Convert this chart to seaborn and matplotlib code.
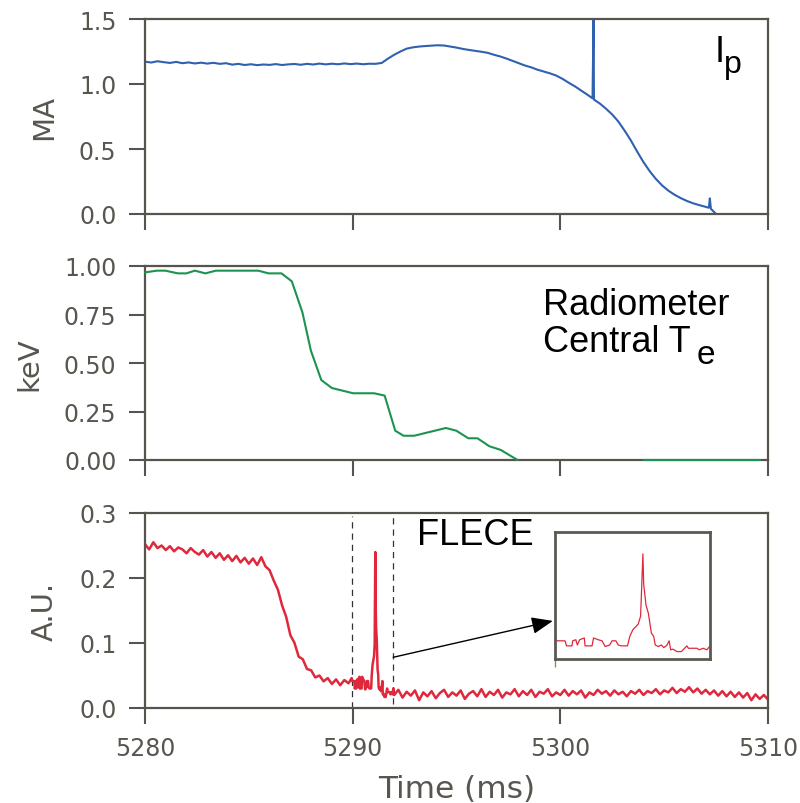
import numpy as np
import pandas as pd
import matplotlib
matplotlib.use("Agg")
import matplotlib.pyplot as plt
import seaborn as sns
from matplotlib.patches import ArrowStyle

# ---------------- data ----------------
ip_time = [5280.0, 5280.3, 5280.6, 5280.9, 5281.2, 5281.5, 5281.8, 5282.1, 5282.4, 5282.7,
           5283.0, 5283.3, 5283.6, 5283.9, 5284.2, 5284.5, 5284.8, 5285.1, 5285.4, 5285.7,
           5286.0, 5286.3, 5286.6, 5286.9, 5287.2, 5287.5, 5287.8, 5288.1, 5288.4, 5288.7,
           5289.0, 5289.3, 5289.6, 5289.9, 5290.2, 5290.5, 5290.8, 5291.1, 5291.4, 5291.7,
           5292.0, 5292.3, 5292.6, 5292.9, 5293.2, 5293.5, 5293.8, 5294.1, 5294.4, 5294.7,
           5295.0, 5295.3, 5295.6, 5295.9, 5296.2, 5296.5, 5296.8, 5297.1, 5297.4, 5297.7,
           5298.0, 5298.3, 5298.6, 5298.9, 5299.2, 5299.5, 5299.8, 5300.1, 5300.4, 5300.7,
           5301.0, 5301.3, 5301.55, 5301.6, 5301.62, 5301.9, 5302.2, 5302.5, 5302.8, 5303.1,
           5303.4, 5303.7, 5304.0, 5304.3, 5304.6, 5304.9, 5305.2, 5305.5, 5305.8, 5306.1,
           5306.4, 5306.7, 5307.0, 5307.15, 5307.2, 5307.25, 5307.5]
ip_ma = [1.172, 1.165, 1.175, 1.168, 1.162, 1.170, 1.160, 1.166, 1.158, 1.164,
         1.157, 1.163, 1.155, 1.160, 1.149, 1.155, 1.146, 1.152, 1.145, 1.150,
         1.147, 1.153, 1.146, 1.151, 1.154, 1.148, 1.155, 1.150, 1.157, 1.151,
         1.156, 1.152, 1.158, 1.153, 1.157, 1.152, 1.156, 1.155, 1.162, 1.195,
         1.225, 1.250, 1.272, 1.282, 1.288, 1.292, 1.295, 1.298, 1.296, 1.288,
         1.280, 1.270, 1.262, 1.255, 1.248, 1.240, 1.225, 1.212, 1.196, 1.178,
         1.160, 1.142, 1.128, 1.110, 1.096, 1.082, 1.065, 1.040, 1.010, 0.982,
         0.950, 0.918, 0.890, 1.500, 0.880, 0.850, 0.810, 0.765, 0.710, 0.640,
         0.565, 0.480, 0.400, 0.330, 0.270, 0.220, 0.180, 0.148, 0.122, 0.100,
         0.082, 0.068, 0.055, 0.048, 0.120, 0.040, 0.000]

te_time = [5280.0, 5280.57, 5280.98, 5281.59, 5281.99, 5282.40, 5282.91, 5283.41, 5285.45,
           5285.95, 5286.57, 5287.07, 5287.58, 5287.99, 5288.49, 5289.00, 5290.02, 5291.03,
           5291.54, 5292.05, 5292.45, 5292.96, 5294.49, 5294.99, 5295.57, 5296.01, 5296.58,
           5297.13, 5297.94, 5304.03, 5309.62]
te_kev = [0.967, 0.976, 0.976, 0.962, 0.962, 0.976, 0.962, 0.976, 0.976,
          0.962, 0.962, 0.921, 0.761, 0.563, 0.412, 0.371, 0.344, 0.344,
          0.332, 0.151, 0.125, 0.125, 0.165, 0.151, 0.112, 0.112, 0.071,
          0.052, 0.000, 0.000, 0.000]
te_segment = [0] * 29 + [1, 1]

flece_pre_time = np.round(np.arange(5280.0, 5289.81, 0.2), 2)
flece_pre = [0.252, 0.244, 0.255, 0.246, 0.250, 0.243, 0.249, 0.241, 0.247, 0.244,
             0.238, 0.246, 0.240, 0.236, 0.243, 0.233, 0.240, 0.231, 0.238, 0.228,
             0.235, 0.226, 0.234, 0.224, 0.231, 0.222, 0.230, 0.220, 0.232, 0.218,
             0.212, 0.196, 0.182, 0.158, 0.140, 0.112, 0.100, 0.079, 0.075, 0.060,
             0.058, 0.047, 0.050, 0.041, 0.046, 0.037, 0.044, 0.035, 0.043, 0.038]

flece_mid_time = [5289.95, 5289.98, 5290.08, 5290.10, 5290.17, 5290.18, 5290.22, 5290.24,
                  5290.27, 5290.33, 5290.34, 5290.43, 5290.45, 5290.51, 5290.56, 5290.60,
                  5290.66, 5290.69, 5290.74, 5290.77, 5290.81, 5290.89, 5290.92, 5290.96,
                  5291.03, 5291.06, 5291.09, 5291.10, 5291.13, 5291.16, 5291.20, 5291.23,
                  5291.25, 5291.29, 5291.33, 5291.36, 5291.40, 5291.43, 5291.45, 5291.48,
                  5291.53, 5291.59, 5291.66, 5291.68, 5291.79, 5291.82, 5291.87, 5291.92,
                  5291.96]
flece_mid = [0.046, 0.0415, 0.0415, 0.030, 0.030, 0.0415, 0.044, 0.032,
             0.044, 0.048, 0.030, 0.030, 0.048, 0.044, 0.0415, 0.0285,
             0.032, 0.0415, 0.0415, 0.032, 0.030, 0.030, 0.0515, 0.067,
             0.080, 0.098, 0.240, 0.171, 0.123, 0.105, 0.059, 0.0515,
             0.032, 0.0285, 0.032, 0.026, 0.031, 0.0415, 0.021, 0.0225,
             0.017, 0.017, 0.030, 0.0245, 0.0245, 0.021, 0.0245, 0.021,
             0.030]

flece_post_time = np.round(np.arange(5292.0, 5310.01, 0.2), 2)
flece_post = [0.020, 0.028, 0.016, 0.025, 0.019, 0.027, 0.012, 0.024, 0.018, 0.026,
              0.015, 0.023, 0.028, 0.017, 0.024, 0.019, 0.027, 0.014, 0.022, 0.026,
              0.018, 0.029, 0.017, 0.025, 0.020, 0.028, 0.016, 0.024, 0.021, 0.029,
              0.018, 0.026, 0.020, 0.028, 0.017, 0.025, 0.022, 0.029, 0.018, 0.024,
              0.020, 0.028, 0.019, 0.026, 0.021, 0.027, 0.016, 0.024, 0.020, 0.028,
              0.022, 0.026, 0.019, 0.027, 0.021, 0.025, 0.018, 0.026, 0.022, 0.028,
              0.020, 0.026, 0.023, 0.029, 0.021, 0.027, 0.024, 0.031, 0.023, 0.029,
              0.025, 0.032, 0.024, 0.030, 0.022, 0.028, 0.021, 0.027, 0.019, 0.026,
              0.018, 0.025, 0.017, 0.024, 0.016, 0.023, 0.012, 0.021, 0.014, 0.020,
              0.013]

dash_times = [5289.95, 5291.95]
x_ticks = [5280, 5290, 5300, 5310]

# ---------------- style ----------------
sns.set_theme(style="ticks")
plt.rcParams["font.family"] = ["Liberation Sans", "DejaVu Sans"]

spine_c = "#56544c"
tick_c = "#58564f"
blue = "#3060b0"
green = "#1a9450"
red = "#e0283c"
axis_font = ["DejaVu Sans"]

fig = plt.figure(figsize=(8.0, 8.04), dpi=100)
L, W = 145 / 800, 623 / 800
ax1 = fig.add_axes([L, (804 - 215) / 804, W, 195 / 804])
ax2 = fig.add_axes([L, (804 - 461) / 804, W, 194 / 804])
ax3 = fig.add_axes([L, (804 - 709) / 804, W, 195 / 804])

ip_df = pd.DataFrame({"t": ip_time, "v": ip_ma})
te_df = pd.DataFrame({"t": te_time, "v": te_kev, "seg": te_segment})
fl_df = pd.DataFrame({
    "t": np.concatenate([flece_pre_time, flece_mid_time, flece_post_time]),
    "v": np.concatenate([flece_pre, flece_mid, flece_post]),
})

sns.lineplot(data=ip_df, x="t", y="v", ax=ax1, color=blue, lw=1.5,
             estimator=None, sort=False)
sns.lineplot(data=te_df, x="t", y="v", units="seg", ax=ax2, color=green, lw=1.5,
             estimator=None, sort=False, zorder=3, clip_on=False)
sns.lineplot(data=fl_df, x="t", y="v", ax=ax3, color=red, lw=1.8,
             estimator=None, sort=False)

for ax, top, ticks, fmt, lab in [
    (ax1, 1.5, [0.0, 0.5, 1.0, 1.5], "{:.1f}", "MA"),
    (ax2, 1.0, [0.0, 0.25, 0.5, 0.75, 1.0], "{:.2f}", "keV"),
    (ax3, 0.3, [0.0, 0.1, 0.2, 0.3], "{:.1f}", "A.U."),
]:
    ax.set_xlim(5280, 5310)
    ax.set_ylim(0, top)
    ax.set_xticks(x_ticks)
    ax.set_yticks(ticks)
    ax.set_yticklabels([fmt.format(v) for v in ticks], family=axis_font)
    ax.tick_params(direction="out", length=11.5, width=1.5, color=spine_c,
                   labelcolor=tick_c, labelsize=17, pad=9)
    for s in ax.spines.values():
        s.set_color(spine_c)
        s.set_linewidth(1.6)
        s.set_visible(True)
    ax.set_ylabel(lab, fontsize=21, color=tick_c, labelpad=15, family=axis_font)
    ax.set_xlabel("")

for ax in (ax1, ax2):
    ax.tick_params(labelbottom=False)

ax3.set_xticklabels([str(v) for v in x_ticks], family=axis_font)
ax3.set_xlabel("Time (ms)", fontsize=22.5, color=tick_c, labelpad=10, family=axis_font)

# annotations
ax1.text(0.915, 0.785, "I", transform=ax1.transAxes, fontsize=26, color="black",
         va="baseline", ha="left")
ax1.text(0.929, 0.728, "p", transform=ax1.transAxes, fontsize=23, color="black",
         va="baseline", ha="left")

ax2.text(0.639, 0.753, "Radiometer", transform=ax2.transAxes, fontsize=26,
         color="black", va="baseline", ha="left")
ax2.text(0.639, 0.562, "Central T", transform=ax2.transAxes, fontsize=26,
         color="black", va="baseline", ha="left")
ax2.text(0.885, 0.50, "e", transform=ax2.transAxes, fontsize=24,
         color="black", va="baseline", ha="left")

ax3.text(0.4366, 0.841, "FLECE", transform=ax3.transAxes, fontsize=26,
         color="black", va="baseline", ha="left")

for t0, (y0, y1) in zip(dash_times, [(0.0, 0.295), (0.006, 0.3)]):
    ax3.plot([t0, t0], [y0, y1], ls=(0, (5, 4)), color="#333333", lw=0.9, zorder=1)

ax3.annotate("", xy=(5299.64, 0.134), xytext=(5291.95, 0.078),
             arrowprops=dict(arrowstyle=ArrowStyle("-|>", head_length=1.0, head_width=0.4),
                             mutation_scale=13, color="black", lw=1.0,
                             shrinkA=0, shrinkB=0),
             annotation_clip=False)

# inset
axi = fig.add_axes([555 / 800, (804 - 660) / 804, 155 / 800, 127 / 804])
sns.lineplot(data=fl_df, x="t", y="v", ax=axi, color=red, lw=0.9,
             estimator=None, sort=False)
axi.set_xlim(5289.95, 5291.96)
axi.set_ylim(0, 0.29)
axi.set_xticks([5289.95])
axi.set_xticklabels([""])
axi.set_yticks([])
axi.tick_params(axis="x", direction="out", length=6, width=1.0, color="#8a8a84")
axi.set_xlabel("")
axi.set_ylabel("")
for s in axi.spines.values():
    s.set_visible(True)
    s.set_color("#5a5a52")
    s.set_linewidth(2.0)

fig.savefig("out.png", dpi=100, facecolor="white")
